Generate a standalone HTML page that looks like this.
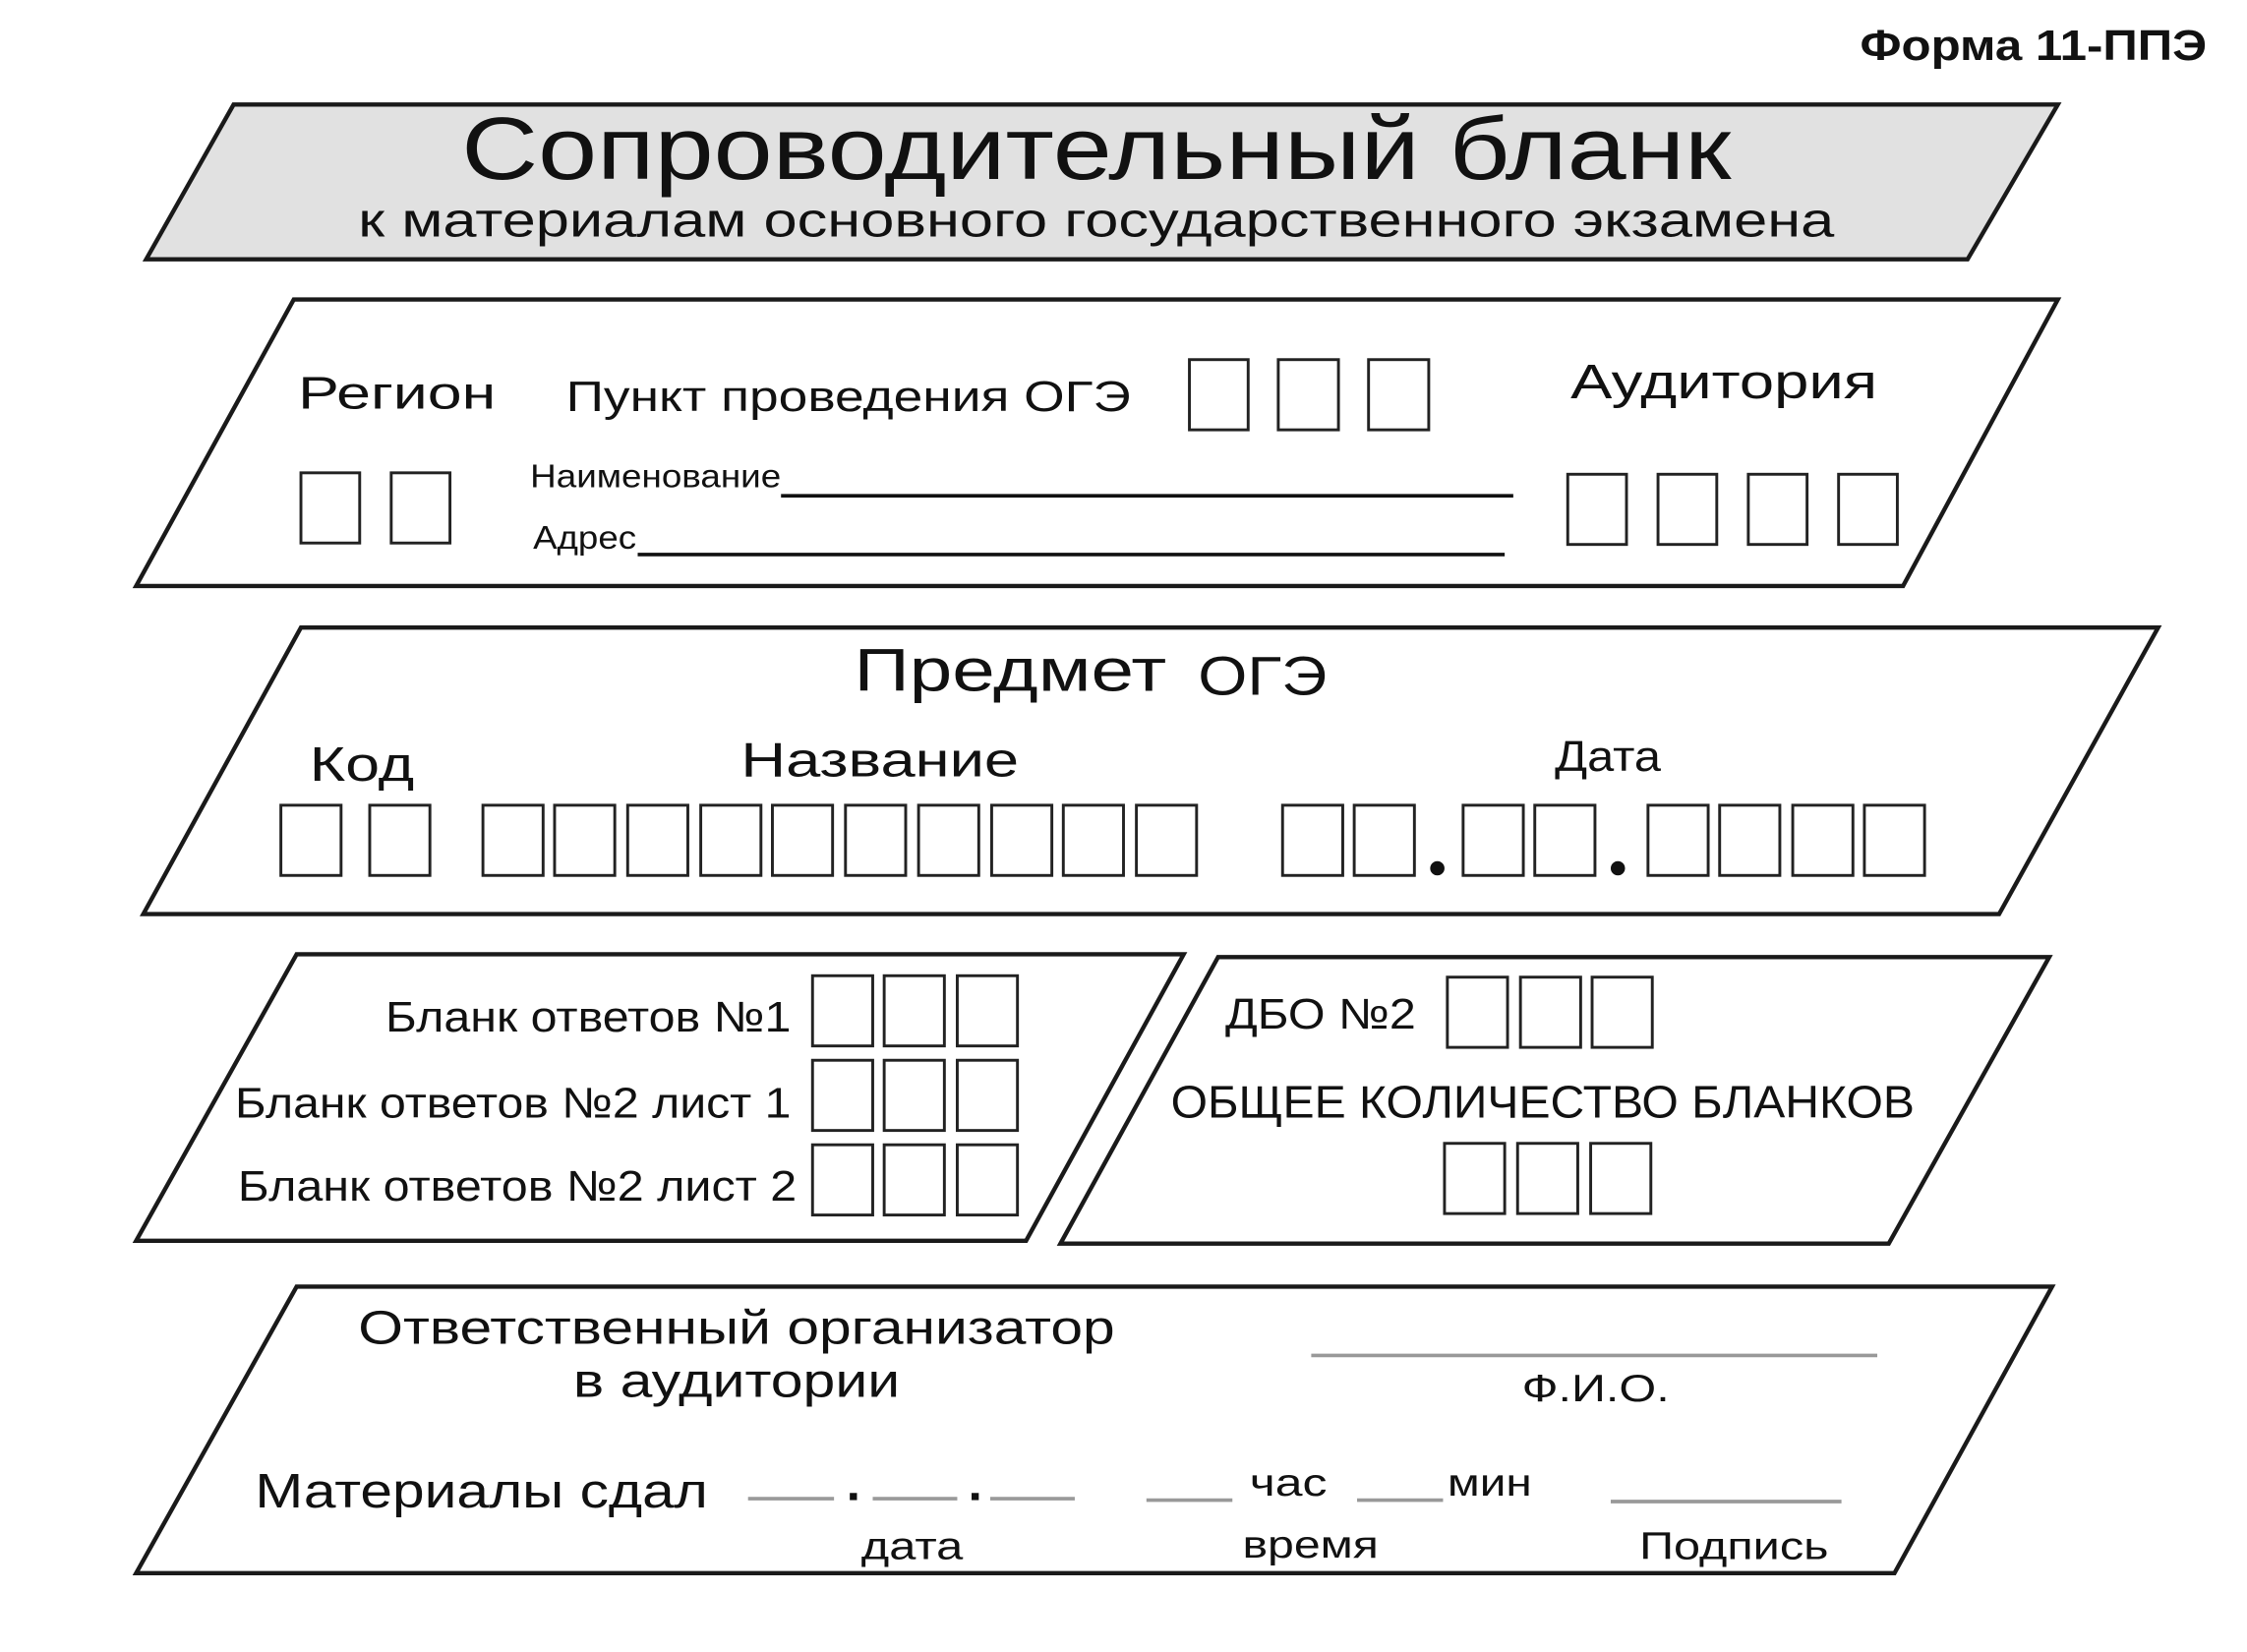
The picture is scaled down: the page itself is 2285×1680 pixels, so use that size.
<!DOCTYPE html>
<html><head><meta charset="utf-8"><style>
html,body{margin:0;padding:0;background:#fff;}
svg{display:block;}
text{font-family:"Liberation Sans",sans-serif;fill:#111;}
</style></head><body>
<svg width="2285" height="1680" viewBox="0 0 1568 1153" preserveAspectRatio="none" xmlns="http://www.w3.org/2000/svg">
<g fill="none" stroke="#1a1a1a" stroke-width="3" stroke-linejoin="miter">
<polygon points="163,73 1436,73 1373,181 102,181" fill="#e1e1e1"/>
<polygon points="205,209 1436,209 1328,409 95,409"/>
<polygon points="210,438 1506,438 1395,638 100,638"/>
<polygon points="207,666 826,666 716,866 95,866"/>
<polygon points="850,668 1430,668 1318,868 740,868"/>
<polygon points="207,898 1432,898 1322,1098 95,1098"/>
</g>
<text x="1298" y="42" font-size="30" font-weight="bold" textLength="242" lengthAdjust="spacingAndGlyphs">Форма 11-ППЭ</text>
<text x="322" y="125" font-size="62" textLength="886" lengthAdjust="spacingAndGlyphs">Сопроводительный бланк</text>
<text x="250" y="165" font-size="34" textLength="1030" lengthAdjust="spacingAndGlyphs">к материалам основного государственного экзамена</text>

<text x="208" y="285" font-size="32" textLength="138" lengthAdjust="spacingAndGlyphs">Регион</text>
<text x="395" y="287" font-size="30" textLength="394" lengthAdjust="spacingAndGlyphs">Пункт проведения ОГЭ</text>
<text x="1096" y="278" font-size="34" textLength="214" lengthAdjust="spacingAndGlyphs">Аудитория</text>
<text x="370" y="340" font-size="23" textLength="175" lengthAdjust="spacingAndGlyphs">Наименование</text>
<text x="372" y="383" font-size="23" textLength="72" lengthAdjust="spacingAndGlyphs">Адрес</text>
<g stroke="#111" stroke-width="2.5">
<line x1="545" y1="346" x2="1056" y2="346"/>
<line x1="445" y1="387" x2="1050" y2="387"/>
</g>
<g fill="#fff" stroke="#222" stroke-width="2">
<rect x="830" y="251" width="41" height="49"/><rect x="892" y="251" width="42" height="49"/><rect x="955" y="251" width="42" height="49"/>
<rect x="210" y="330" width="41" height="49"/><rect x="273" y="330" width="41" height="49"/>
<rect x="1094" y="331" width="41" height="49"/><rect x="1157" y="331" width="41" height="49"/><rect x="1220" y="331" width="41" height="49"/><rect x="1283" y="331" width="41" height="49"/>
</g>

<text x="596" y="482" font-size="42" textLength="218" lengthAdjust="spacingAndGlyphs">Предмет</text>
<text x="836" y="485" font-size="38" textLength="90" lengthAdjust="spacingAndGlyphs">ОГЭ</text>
<text x="216" y="545" font-size="34" textLength="73" lengthAdjust="spacingAndGlyphs">Код</text>
<text x="517" y="542" font-size="34" textLength="194" lengthAdjust="spacingAndGlyphs">Название</text>
<text x="1085" y="538" font-size="30" textLength="74" lengthAdjust="spacingAndGlyphs">Дата</text>
<g fill="#fff" stroke="#222" stroke-width="2">
<rect x="196" y="562" width="42" height="49"/><rect x="258" y="562" width="42" height="49"/>
<rect x="337" y="562" width="42" height="49"/><rect x="387" y="562" width="42" height="49"/><rect x="438" y="562" width="42" height="49"/><rect x="489" y="562" width="42" height="49"/><rect x="539" y="562" width="42" height="49"/><rect x="590" y="562" width="42" height="49"/><rect x="641" y="562" width="42" height="49"/><rect x="692" y="562" width="42" height="49"/><rect x="742" y="562" width="42" height="49"/><rect x="793" y="562" width="42" height="49"/>
<rect x="895" y="562" width="42" height="49"/><rect x="945" y="562" width="42" height="49"/>
<rect x="1021" y="562" width="42" height="49"/><rect x="1071" y="562" width="42" height="49"/>
<rect x="1150" y="562" width="42" height="49"/><rect x="1200" y="562" width="42" height="49"/><rect x="1251" y="562" width="42" height="49"/><rect x="1301" y="562" width="42" height="49"/>
</g>
<circle cx="1003" cy="606" r="5" fill="#111"/><circle cx="1129" cy="606" r="5" fill="#111"/>

<text x="552" y="720" font-size="30" text-anchor="end" textLength="283" lengthAdjust="spacingAndGlyphs">Бланк ответов №1</text>
<text x="552" y="780" font-size="30" text-anchor="end" textLength="388" lengthAdjust="spacingAndGlyphs">Бланк ответов №2 лист 1</text>
<text x="556" y="838" font-size="30" text-anchor="end" textLength="390" lengthAdjust="spacingAndGlyphs">Бланк ответов №2 лист 2</text>
<g fill="#fff" stroke="#222" stroke-width="2">
<rect x="567" y="681" width="42" height="49"/><rect x="617" y="681" width="42" height="49"/><rect x="668" y="681" width="42" height="49"/>
<rect x="567" y="740" width="42" height="49"/><rect x="617" y="740" width="42" height="49"/><rect x="668" y="740" width="42" height="49"/>
<rect x="567" y="799" width="42" height="49"/><rect x="617" y="799" width="42" height="49"/><rect x="668" y="799" width="42" height="49"/>
<rect x="1010" y="682" width="42" height="49"/><rect x="1061" y="682" width="42" height="49"/><rect x="1111" y="682" width="42" height="49"/>
<rect x="1008" y="798" width="42" height="49"/><rect x="1059" y="798" width="42" height="49"/><rect x="1110" y="798" width="42" height="49"/>
</g>
<text x="855" y="718" font-size="30" textLength="133" lengthAdjust="spacingAndGlyphs">ДБО №2</text>
<text x="817" y="780" font-size="32" textLength="519" lengthAdjust="spacingAndGlyphs">ОБЩЕЕ КОЛИЧЕСТВО БЛАНКОВ</text>

<text x="514" y="938" font-size="33" text-anchor="middle" textLength="528" lengthAdjust="spacingAndGlyphs">Ответственный организатор</text>
<text x="514" y="975" font-size="33" text-anchor="middle" textLength="228" lengthAdjust="spacingAndGlyphs">в аудитории</text>
<text x="1062" y="978" font-size="27" textLength="103" lengthAdjust="spacingAndGlyphs">Ф.И.О.</text>
<text x="178" y="1052" font-size="34" textLength="316" lengthAdjust="spacingAndGlyphs">Материалы сдал</text>
<text x="601" y="1088" font-size="27" textLength="71" lengthAdjust="spacingAndGlyphs">дата</text>
<text x="872" y="1044" font-size="27" textLength="54" lengthAdjust="spacingAndGlyphs">час</text>
<text x="1010" y="1044" font-size="27" textLength="59" lengthAdjust="spacingAndGlyphs">мин</text>
<text x="867" y="1087" font-size="27" textLength="95" lengthAdjust="spacingAndGlyphs">время</text>
<text x="1144" y="1088" font-size="27" textLength="132" lengthAdjust="spacingAndGlyphs">Подпись</text>
<g stroke="#999" stroke-width="2.5">
<line x1="915" y1="946" x2="1310" y2="946"/>
<line x1="522" y1="1046" x2="582" y2="1046"/>
<line x1="609" y1="1046" x2="668" y2="1046"/>
<line x1="691" y1="1046" x2="750" y2="1046"/>
<line x1="800" y1="1047" x2="860" y2="1047"/>
<line x1="947" y1="1047" x2="1007" y2="1047"/>
<line x1="1124" y1="1048" x2="1285" y2="1048"/>
</g>
<rect x="593" y="1042" width="5" height="5" fill="#111"/>
<rect x="678" y="1042" width="5" height="5" fill="#111"/>
</svg>
</body></html>
